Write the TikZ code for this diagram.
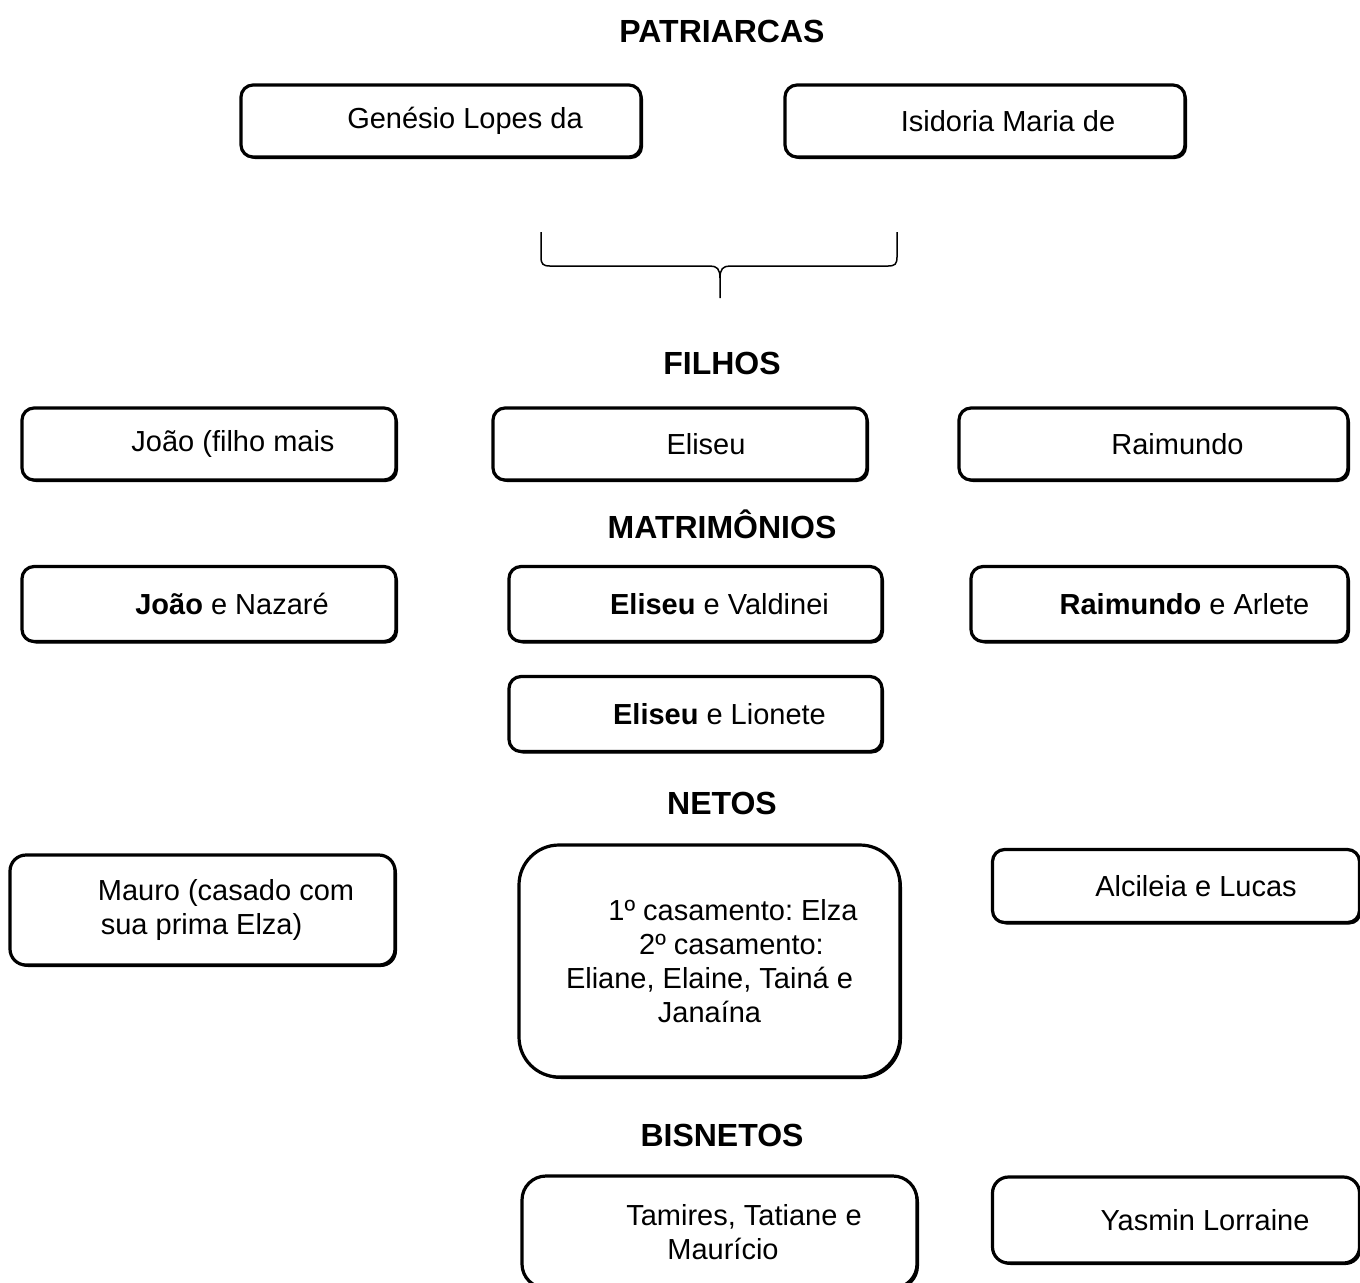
\documentclass[tikz,border=0pt]{standalone}
\usepackage{fontspec}
\setmainfont{Liberation Sans}
\usetikzlibrary{shadows}

\begin{document}
\frenchspacing
\begin{tikzpicture}[
        x=0.5pt, y=-0.5pt,
        block/.style={rectangle, draw, line width=1.6pt, fill=white, rounded corners=6pt, inner sep=0pt,
            minimum width=187pt, minimum height=36pt, align=center,
            font=\fontsize{14.5}{17}\selectfont,
            drop shadow={shadow xshift=1pt, shadow yshift=-1pt, fill=black, opacity=1}},
        bigblock/.style={block, rounded corners=20pt},
        heading/.style={anchor=base, inner sep=0pt, font=\fontsize{16}{19}\selectfont\bfseries},
        brace/.style={line width=0.75pt}
    ]
    \useasboundingbox (0,0) rectangle (1360,1282);

    % Patriarcas
    \node [heading] (hpat) at (722,42) {PATRIARCAS};
    \node [block, minimum width=200pt] (genesio) at (441,121) {\hspace*{24pt}Genésio Lopes da};
    \node [block, minimum width=200pt] (isidoria) at (985,121) {\hspace*{23pt}Isidoria Maria de};

    % chave
    \coordinate (bl) at (541,232);
    \coordinate (br) at (897,232);
    \coordinate (bt) at (720,298);
    \draw [brace] (bl) -- (541,257) .. controls (541,264) and (543,266) .. (550,266) -- (710,266)
        .. controls (717,266) and (720,269) .. (720,278) -- (bt);
    \draw [brace] (br) -- (897,257) .. controls (897,264) and (895,266) .. (888,266) -- (730,266)
        .. controls (723,266) and (720,269) .. (720,278);

    % Filhos
    \node [heading] (hfil) at (722,374) {FILHOS};
    \node [block] (joao) at (209,444) {\hspace*{24pt}João (filho mais};
    \node [block] (eliseu) at (680,444) {\hspace*{26pt}Eliseu};
    \node [block, minimum width=194.5pt] (raimundo) at (1153.5,444) {\hspace*{24pt}Raimundo};

    % Matrimonios
    \node [heading] (hmat) at (722,538) {MATRIMÔNIOS};
    \node [block, minimum height=37.5pt] (joaom) at (209,604) {\hspace*{23pt}\textbf{João} e Nazaré};
    \node [block, minimum width=186.5pt, minimum height=37.5pt] (eliseuv) at (695.5,604) {\hspace*{24pt}\textbf{Eliseu} e Valdinei};
    \node [block, minimum width=188.5pt, minimum height=37.5pt] (raimundom) at (1159.5,604) {\hspace*{25pt}\textbf{Raimundo} e Arlete};
    \node [block, minimum width=186.5pt, minimum height=37.5pt] (eliseul) at (695.5,714) {\hspace*{24pt}\textbf{Eliseu} e Lionete};

    % Netos
    \node [heading] (hnet) at (722,814) {NETOS};
    \node [block, align=left, minimum width=192.5pt, minimum height=55pt, rounded corners=8pt] (mauro) at (202.5,910)
        {\hspace*{23.5pt}Mauro (casado com\\ \hspace*{25pt}sua prima Elza)};
    \node [bigblock, minimum width=190.5pt, minimum height=116pt] (netoseliseu) at (709.5,961)
        {\hspace*{23.5pt}1º casamento: Elza\\ \hspace*{22pt}2º casamento:\\ Eliane, Elaine, Tainá e\\ Janaína};
    \node [block, minimum width=183.5pt, minimum height=36.5pt] (alcileia) at (1176,886) {\hspace*{20pt}Alcileia e Lucas};

    % Bisnetos
    \node [heading] (hbis) at (722,1146) {BISNETOS};
    \node [block, minimum width=197.5pt, minimum height=56pt, rounded corners=12pt] (tamires) at (719.5,1232)
        {\hspace*{24.5pt}Tamires, Tatiane e\\ \hspace*{3.5pt}Maurício};
    \node [block, minimum width=183.5pt, minimum height=43pt, rounded corners=8pt] (yasmin) at (1176,1220) {\hspace*{29pt}Yasmin Lorraine};

\end{tikzpicture}
\end{document}
